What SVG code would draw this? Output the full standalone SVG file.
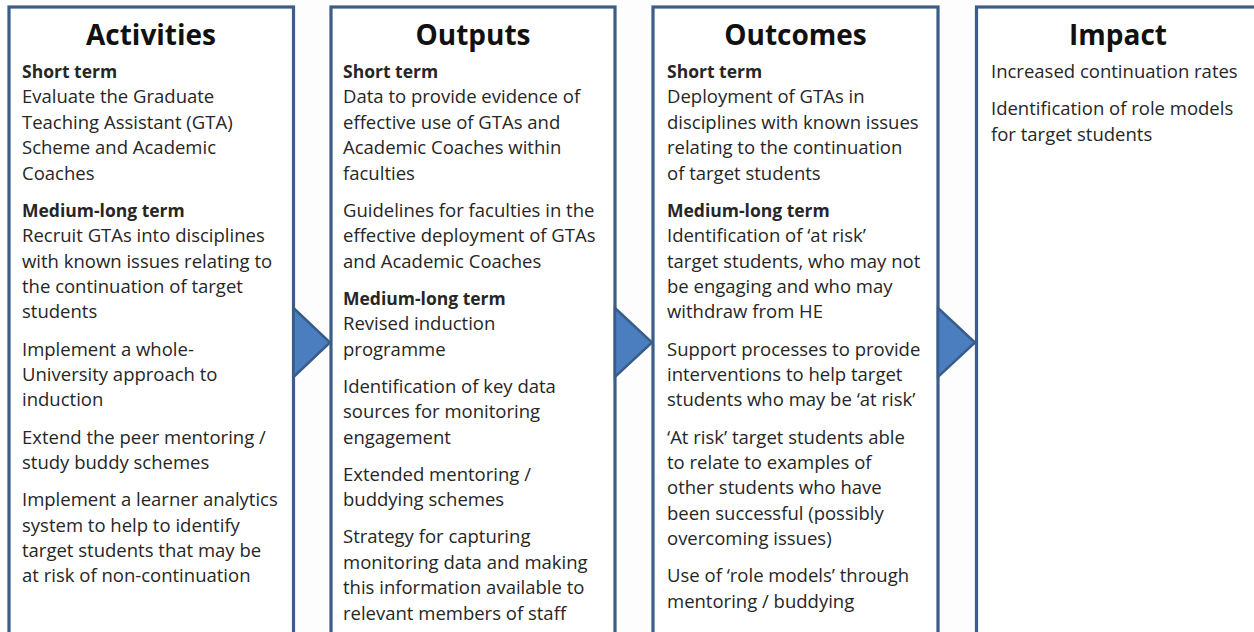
<svg xmlns="http://www.w3.org/2000/svg" width="1254" height="632" viewBox="0 0 1254 632">
<style>
.box{fill:#ffffff;stroke:#3c5d88;stroke-width:3.2}
.arr{fill:#4a7ebf;stroke:#385d8a;stroke-width:2.5;stroke-linejoin:miter}
text{font-family:"Open Sans",Lato,"Liberation Sans",sans-serif;fill:#262626}
.t{font-size:28px;font-weight:bold;text-anchor:middle;fill:#111}
.b{font-size:17.5px;font-weight:bold}
.n{font-size:18.5px}
</style>
<rect width="1254" height="632" fill="#fdfdfd"/>
<g id="activities">
<rect class="box" x="9" y="7" width="284.5" height="640"/>
<text class="t" x="151" y="45">Activities</text>
<text class="b" x="22" y="78">Short term</text>
<text class="n" x="22" y="103.4">Evaluate the Graduate</text>
<text class="n" x="22" y="128.8">Teaching Assistant (GTA)</text>
<text class="n" x="22" y="154.2">Scheme and Academic</text>
<text class="n" x="22" y="179.6">Coaches</text>
<text class="b" x="22" y="216.8">Medium-long term</text>
<text class="n" x="22" y="242.2">Recruit GTAs into disciplines</text>
<text class="n" x="22" y="267.6">with known issues relating to</text>
<text class="n" x="22" y="293">the continuation of target</text>
<text class="n" x="22" y="318.4">students</text>
<text class="n" x="22" y="355.6">Implement a whole-</text>
<text class="n" x="22" y="381">University approach to</text>
<text class="n" x="22" y="406.4">induction</text>
<text class="n" x="22" y="443.6">Extend the peer mentoring /</text>
<text class="n" x="22" y="469">study buddy schemes</text>
<text class="n" x="22" y="506.2">Implement a learner analytics</text>
<text class="n" x="22" y="531.6">system to help to identify</text>
<text class="n" x="22" y="557">target students that may be</text>
<text class="n" x="22" y="582.4">at risk of non-continuation</text>
</g>
<g id="outputs">
<rect class="box" x="331" y="7" width="284" height="640"/>
<text class="t" x="473" y="45">Outputs</text>
<text class="b" x="343" y="78">Short term</text>
<text class="n" x="343" y="103.4">Data to provide evidence of</text>
<text class="n" x="343" y="128.8">effective use of GTAs and</text>
<text class="n" x="343" y="154.2">Academic Coaches within</text>
<text class="n" x="343" y="179.6">faculties</text>
<text class="n" x="343" y="216.8">Guidelines for faculties in the</text>
<text class="n" x="343" y="242.2">effective deployment of GTAs</text>
<text class="n" x="343" y="267.6">and Academic Coaches</text>
<text class="b" x="343" y="304.8">Medium-long term</text>
<text class="n" x="343" y="330.2">Revised induction</text>
<text class="n" x="343" y="355.6">programme</text>
<text class="n" x="343" y="392.8">Identification of key data</text>
<text class="n" x="343" y="418.2">sources for monitoring</text>
<text class="n" x="343" y="443.6">engagement</text>
<text class="n" x="343" y="480.8">Extended mentoring /</text>
<text class="n" x="343" y="506.2">buddying schemes</text>
<text class="n" x="343" y="543.4">Strategy for capturing</text>
<text class="n" x="343" y="568.8">monitoring data and making</text>
<text class="n" x="343" y="594.2">this information available to</text>
<text class="n" x="343" y="619.6">relevant members of staff</text>
</g>
<g id="outcomes">
<rect class="box" x="653" y="7" width="285" height="640"/>
<text class="t" x="795.5" y="45">Outcomes</text>
<text class="b" x="667" y="78">Short term</text>
<text class="n" x="667" y="103.4">Deployment of GTAs in</text>
<text class="n" x="667" y="128.8">disciplines with known issues</text>
<text class="n" x="667" y="154.2">relating to the continuation</text>
<text class="n" x="667" y="179.6">of target students</text>
<text class="b" x="667" y="216.8">Medium-long term</text>
<text class="n" x="667" y="242.2">Identification of ‘at risk’</text>
<text class="n" x="667" y="267.6">target students, who may not</text>
<text class="n" x="667" y="293">be engaging and who may</text>
<text class="n" x="667" y="318.4">withdraw from HE</text>
<text class="n" x="667" y="355.6">Support processes to provide</text>
<text class="n" x="667" y="381">interventions to help target</text>
<text class="n" x="667" y="406.4">students who may be ‘at risk’</text>
<text class="n" x="667" y="443.6">‘At risk’ target students able</text>
<text class="n" x="667" y="469">to relate to examples of</text>
<text class="n" x="667" y="494.4">other students who have</text>
<text class="n" x="667" y="519.8">been successful (possibly</text>
<text class="n" x="667" y="545.2">overcoming issues)</text>
<text class="n" x="667" y="582.4">Use of ‘role models’ through</text>
<text class="n" x="667" y="607.8">mentoring / buddying</text>
</g>
<g id="impact">
<rect class="box" x="976.5" y="7" width="285" height="640"/>
<text class="t" x="1118" y="45">Impact</text>
<text class="n" x="991" y="78">Increased continuation rates</text>
<text class="n" x="991" y="115.2">Identification of role models</text>
<text class="n" x="991" y="140.6">for target students</text>
</g>
<g id="connectors">
<polygon class="arr" points="293.5,308 330,342.5 293.5,377"/>
<polygon class="arr" points="615,308 652,342.5 615,377"/>
<polygon class="arr" points="938,308 975,342.5 938,377"/>
</g>
</svg>
